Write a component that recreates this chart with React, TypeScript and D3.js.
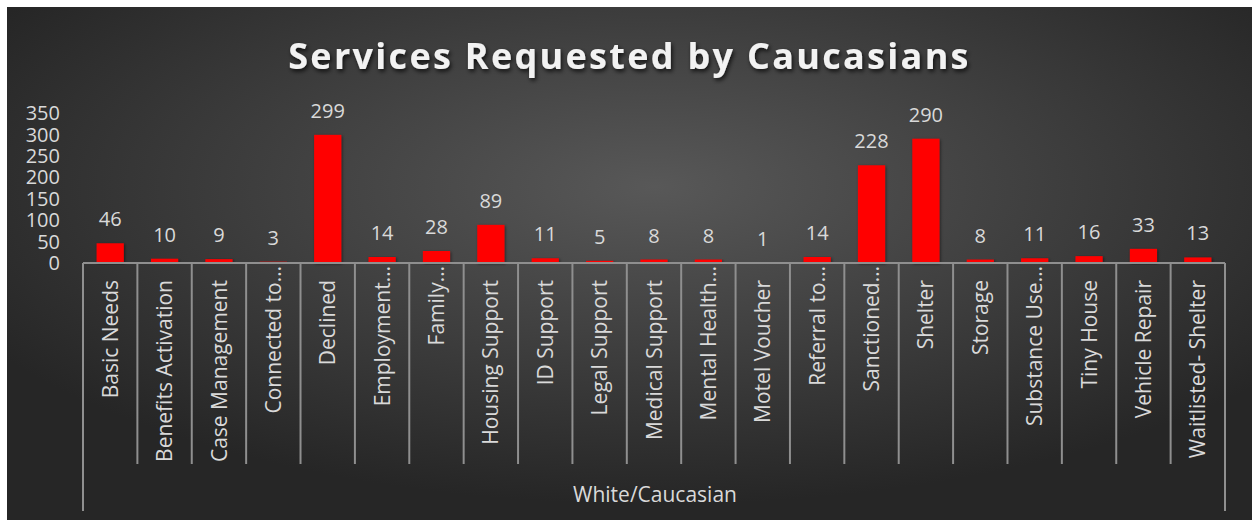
import React from "react";
import * as d3 from "d3";

const categories = [
  "Basic Needs", "Benefits Activation", "Case Management", "Connected to…", "Declined",
  "Employment…", "Family…", "Housing Support", "ID Support", "Legal Support",
  "Medical Support", "Mental Health…", "Motel Voucher", "Referral to…", "Sanctioned…",
  "Shelter", "Storage", "Substance Use…", "Tiny House", "Vehicle Repair", "Waitlisted- Shelter",
];
const values = [46, 10, 9, 3, 299, 14, 28, 89, 11, 5, 8, 8, 1, 14, 228, 290, 8, 11, 16, 33, 13];
const yTicks = [0, 50, 100, 150, 200, 250, 300, 350];
const groupLabel = "White/Caucasian";
const title = "Services Requested by Caucasians";

const W = 1252;
const H = 520;

export default function App() {
  const x = d3.scaleBand<number>().domain(d3.range(categories.length)).range([83, 1225]).paddingInner(0).paddingOuter(0);
  const y = d3.scaleLinear().domain([0, 350]).range([263, 113]);
  const bw = x.bandwidth();
  const barW = bw * 0.5;
  const axisY = y(0);
  const font = "'Open Sans', 'DejaVu Sans', sans-serif";
  const txt = "#d9d9d9";
  const lineCol = "#8f8f8f";

  return (
    <svg width={W} height={H} style={{ position: "absolute", left: 0, top: 0 }}>
      <defs>
        <radialGradient id="bg" cx="52%" cy="35%" r="62%" gradientUnits="objectBoundingBox">
          <stop offset="0%" stopColor="#585858" />
          <stop offset="100%" stopColor="#262626" />
        </radialGradient>
        <filter id="tshadow" x="-10%" y="-30%" width="120%" height="160%">
          <feDropShadow dx="1.5" dy="2.5" stdDeviation="2" floodColor="#000" floodOpacity="0.75" />
        </filter>
        <filter id="bshadow" x="-30%" y="-10%" width="160%" height="120%">
          <feDropShadow dx="1" dy="1" stdDeviation="1.5" floodColor="#000" floodOpacity="0.5" />
        </filter>
      </defs>
      <rect x={0} y={0} width={W} height={H} fill="#ffffff" />
      <rect x={7} y={7} width={W - 7} height={H - 7} fill="url(#bg)" />
      <text
        x={629.5}
        y={69}
        textAnchor="middle"
        fill="#f2f2f2"
        fontFamily={font}
        fontWeight={700}
        fontSize={36}
        letterSpacing={2.3}
        filter="url(#tshadow)"
      >
        {title}
      </text>
      {yTicks.map((t) => (
        <text key={t} x={60} y={y(t)} dy="0.36em" textAnchor="end" fill={txt} fontFamily={font} fontSize={20}>
          {t}
        </text>
      ))}
      {values.map((v, i) => {
        const cx = (x(i) as number) + bw / 2;
        return (
          <g key={i}>
            <rect x={cx - barW / 2} y={y(v)} width={barW} height={axisY - y(v)} fill="#ff0000" filter="url(#bshadow)" />
            <text x={cx} y={y(v) - 17} textAnchor="middle" fill={txt} fontFamily={font} fontSize={20}>
              {v}
            </text>
          </g>
        );
      })}
      <line x1={83} x2={1225} y1={axisY} y2={axisY} stroke={lineCol} strokeWidth={2} />
      {d3.range(categories.length + 1).map((i) => {
        const xx = i < categories.length ? (x(i) as number) : 1225;
        const outer = i === 0 || i === categories.length;
        return <line key={i} x1={xx} x2={xx} y1={axisY} y2={outer ? 511 : 464} stroke={lineCol} strokeWidth={2} />;
      })}
      {categories.map((c, i) => {
        const cx = (x(i) as number) + bw / 2;
        const top = c.endsWith("…") ? 266 : 280;
        return (
          <text
            key={c}
            transform={`translate(${cx},${top}) rotate(-90)`}
            dy="0.36em"
            textAnchor="end"
            fill={txt}
            fontFamily={font}
            fontSize={21}
          >
            {c}
          </text>
        );
      })}
      <text x={655} y={494} dy="0.36em" textAnchor="middle" fill={txt} fontFamily={font} fontSize={21}>
        {groupLabel}
      </text>
    </svg>
  );
}
